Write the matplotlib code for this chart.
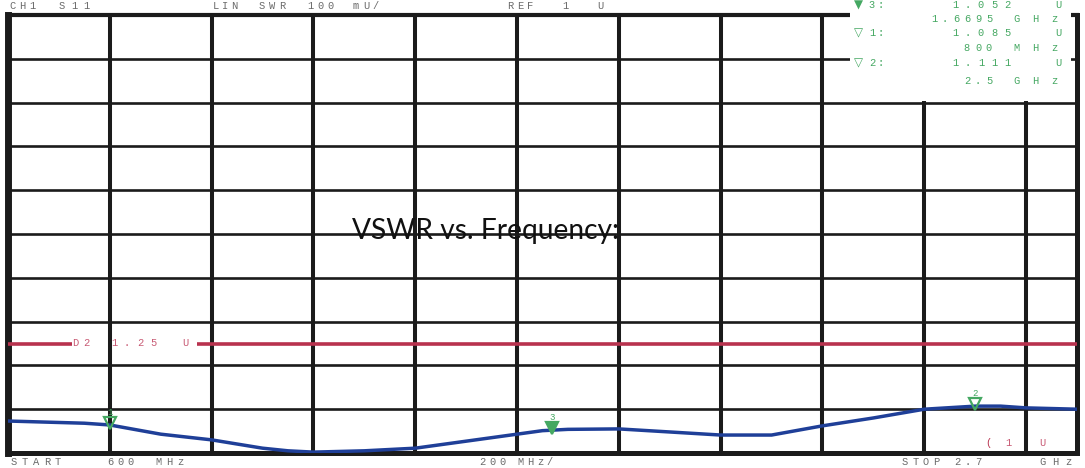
"""
plot.py - network analyser style VSWR sweep (S11, CH1), redrawn with matplotlib.
"""

import numpy as np

import matplotlib
matplotlib.use("Agg")
import matplotlib.pyplot as plt
from matplotlib.patches import Rectangle
from matplotlib.transforms import offset_copy

# ---------------------------------------------------------------------------
# Data
# ---------------------------------------------------------------------------
FREQ_MHZ = [600, 750, 800, 900, 1000, 1100, 1150, 1200, 1300, 1400, 1500,
            1600, 1650, 1700, 1800, 1900, 2000, 2100, 2200, 2300, 2400, 2500,
            2550, 2600, 2700]
VSWR = [1.073, 1.068, 1.064, 1.043, 1.030, 1.011, 1.005, 1.002, 1.005, 1.011,
        1.027, 1.043, 1.051, 1.054, 1.055, 1.048, 1.041, 1.041, 1.062, 1.080,
        1.100, 1.107, 1.107, 1.103, 1.100]

START_MHZ, STOP_MHZ, DIV_MHZ = 600, 2700, 200
REF_U, SCALE_U, N_DIV_Y = 1.0, 0.1, 10
LIMIT_U = 1.25

MARKER_IDS = ["1", "2", "3"]
MARKER_FREQ_MHZ = [800, 2500, 1669.5]
MARKER_FILLED = [False, False, True]
MARKER_READ_U = ["1.085", "1.111", "1.052"]
MARKER_READ_F = [("800", "MHz"), ("2.5", "GHz"), ("1.6695", "GHz")]

# ---------------------------------------------------------------------------
# Style
# ---------------------------------------------------------------------------
W, H = 1085, 468
GRID = "#1b1b1b"
TRACE = "#1f3f98"
LIMIT = "#b8324e"
LIMIT_TXT = "#c85a74"
GREEN = "#45a862"
GREY = "#6a6a6a"
MONO = "Liberation Mono"
TXT = 7.5

fig = plt.figure(figsize=(W / 100, H / 100), dpi=100)
fig.patch.set_facecolor("white")

# plot area in pixels: x 8..1077, y 15..453
ax = fig.add_axes([8 / W, (H - 453) / H, 1069 / W, 438 / H])
ax.set_xlim(START_MHZ, STOP_MHZ)
ax.set_ylim(REF_U, REF_U + N_DIV_Y * SCALE_U)
ax.set_xticks(np.arange(START_MHZ + DIV_MHZ, STOP_MHZ, DIV_MHZ))
ax.set_yticks(REF_U + SCALE_U * np.arange(1, N_DIV_Y))
ax.tick_params(length=0, labelbottom=False, labelleft=False)
ax.grid(axis="x", color=GRID, lw=2.9)
ax.grid(axis="y", color=GRID, lw=1.9)
ax.set_axisbelow(True)
for side, lw in [("left", 5.0), ("bottom", 3.6), ("top", 3.0), ("right", 3.6)]:
    ax.spines[side].set_linewidth(lw)
    ax.spines[side].set_color(GRID)


def px(x, y):
    """Pixel position (from top-left) -> figure fraction."""
    return x / W, 1 - y / H


def spaced(x, y, s, pitch, color=GREY, size=TXT, z=10):
    """Instrument style text: one glyph per cell, wide letter spacing."""
    for i, ch in enumerate(s):
        if ch.strip():
            fx, fy = px(x + i * pitch, y)
            fig.text(fx, fy, ch, ha="center", va="center", fontsize=size,
                     color=color, family=MONO, zorder=z)


# Limit line with its label cut into it
gap_lo, gap_hi = 726, 972
ax.hlines([LIMIT_U, LIMIT_U], [START_MHZ, gap_hi], [gap_lo, STOP_MHZ],
          color=LIMIT, lw=2.6, zorder=4)
for x0, word, pitch in [(75, "D2", 11), (114, "1.25", 13), (185, "U", 10)]:
    spaced(x0, 343, word, pitch, color=LIMIT_TXT)

# Trace
ax.plot(FREQ_MHZ, VSWR, color=TRACE, lw=2.5, zorder=5,
        solid_capstyle="round", solid_joinstyle="round")

# Markers on the trace
tri_tf = offset_copy(ax.transData, fig=fig, y=1.5, units="points")
lab_tf = offset_copy(ax.transData, fig=fig, y=9, units="points")
for mid, f, filled in zip(MARKER_IDS, MARKER_FREQ_MHZ, MARKER_FILLED):
    v = np.interp(f, FREQ_MHZ, VSWR)
    ax.plot(f, v, marker="v", ms=8, mew=1.6, color=GREEN,
            mfc=GREEN if filled else "none", transform=tri_tf, zorder=6)
    ax.text(f, v, mid, transform=lab_tf, ha="center", va="center",
            fontsize=6.5, color=GREEN, family=MONO, zorder=6)

# Title, fitted to the width it has on the screenshot (x 352..618 px)
title = ax.text((485 - 8) / 1069, (453 - 239) / 438, "VSWR vs. Frequency:",
                transform=ax.transAxes, ha="center", va="baseline",
                family="Lato", fontsize=22, color="#111111", zorder=8)
fig.canvas.draw()
tw = title.get_window_extent().width
title.set_fontsize(min(24, 22 * 266 / tw))

# Marker readout box (covers the grid, top right)
bx, by = px(850, 101)
fig.patches.append(Rectangle((bx, by), 221 / W, 101 / H, transform=fig.transFigure,
                             facecolor="white", edgecolor="none", zorder=3))
rows_y = [(5, 19), (33, 48), (63, 81)]
order = [2, 0, 1]  # active marker 3 first, then 1 and 2
for (y_val, y_freq), k in zip(rows_y, order):
    tri = "\u25BC" if MARKER_FILLED[k] else "\u25BD"
    fx, fy = px(858, y_val)
    fig.text(fx, fy, tri, ha="center", va="center", fontsize=8.5, color=GREEN,
             family="DejaVu Sans", zorder=10)
    spaced(872, y_val, MARKER_IDS[k] + ":", 9, color=GREEN)
    spaced(955, y_val, MARKER_READ_U[k], 13, color=GREEN)
    spaced(1058, y_val, "U", 10, color=GREEN)
    fval, funit = MARKER_READ_F[k]
    spaced(1000 - 11 * len(fval), y_freq, fval, 11, color=GREEN)
    spaced(1016, y_freq, funit, 19, color=GREEN)

# Header
for x0, word, pitch in [(12, "CH1", 10), (62, "S11", 12), (216, "LIN", 9),
                        (262, "SWR", 10), (310, "100", 10), (356, "mU/", 10),
                        (510, "REF", 10), (565, "1", 10), (600, "U", 10)]:
    spaced(x0, 6, word, pitch)

# Footer
for x0, word, pitch in [(14, "START", 11), (110, "600", 10), (158, "MHz", 11),
                        (482, "200", 10), (520, "MHz/", 10), (905, "STOP", 10.5),
                        (957, "2.7", 10.5), (1042, "GHz", 13)]:
    spaced(x0, 462, word, pitch)

# scale readout inside the grid
spaced(988, 443, "(", 10, color=LIMIT)
spaced(1008, 443, "1", 10, color=LIMIT_TXT)
spaced(1042, 443, "U", 10, color=LIMIT_TXT)

fig.savefig("out.png", dpi=100)
